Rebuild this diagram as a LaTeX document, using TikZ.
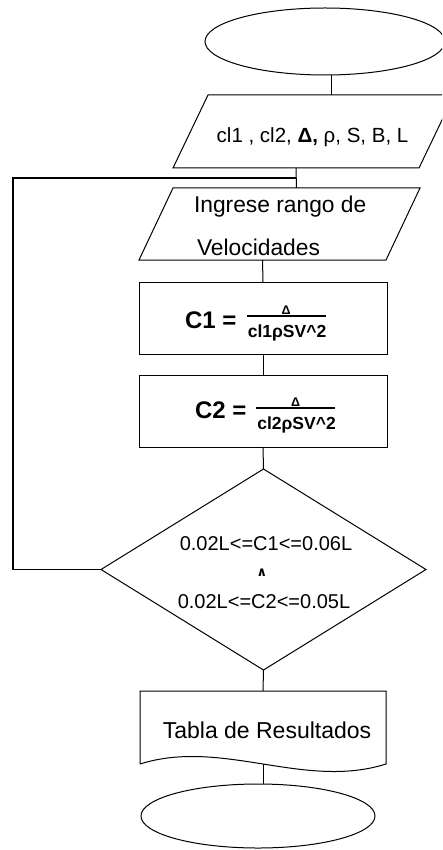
\documentclass[tikz,border=0pt]{standalone}
\usepackage{fontspec}
\setmainfont{Liberation Sans}
\newfontfamily\symfam{DejaVu Sans}
\usetikzlibrary{shapes.geometric,calc}
\begin{document}
\begin{tikzpicture}[x=1pt,y=-1pt,
  line width=1pt,
  every node/.style={inner sep=0pt,outer sep=0pt},
  term/.style={draw,ellipse},
  procbox/.style={draw,rectangle},
  txt/.style={text=black},
  numer/.style={txt,anchor=base,font=\fontsize{12.5}{12.5}\selectfont\bfseries},
  denom/.style={txt,anchor=base,font=\fontsize{17.5}{17.5}\selectfont\bfseries},
  lhs/.style={txt,anchor=base west,font=\fontsize{24}{24}\selectfont\bfseries},
  fracbar/.style={line width=1.2pt},
  loopline/.style={line width=1.6pt}
]
\useasboundingbox (0,0) rectangle (442,850);
\clip (0,0) rectangle (442,850);

% start terminal
\node[term,minimum width=240pt,minimum height=67pt] (start) at (325,41.5) {};

% input 1 (parallelogram)
\node[minimum width=246pt,minimum height=73pt] (in1) at (313.5,131.5) {};
\draw ($(in1.north west)+(17.5,0)$) -- ($(in1.north east)+(17.5,0)$)
   -- ($(in1.south east)+(-17.5,0)$) -- ($(in1.south west)+(-17.5,0)$) -- cycle;
\coordinate (in1t) at ($(in1.north)+(17.5,0)$);
\coordinate (in1b) at ($(in1.south)+(-17.5,0)$);
\node[txt,anchor=base,font=\fontsize{20.5}{20.5}\selectfont] (t1) at (312.5,143)
  {cl1 , cl2, \textbf{Δ,} ρ, S, B, L};

% input 2 (parallelogram)
\node[minimum width=247pt,minimum height=72pt] (in2) at (279.5,224) {};
\draw ($(in2.north west)+(17,0)$) -- ($(in2.north east)+(17,0)$)
   -- ($(in2.south east)+(-17,0)$) -- ($(in2.south west)+(-17,0)$) -- cycle;
\coordinate (in2t) at ($(in2.north)+(17,0)$);
\coordinate (in2b) at ($(in2.south)+(-17,0)$);
\node[txt,anchor=base west,font=\fontsize{22.8}{22.8}\selectfont] (t2a) at (194,213) {Ingrese rango de};
\node[txt,anchor=base west,font=\fontsize{22.8}{22.8}\selectfont] (t2b) at (197,255) {Velocidades};

% process C1
\node[procbox,minimum width=248pt,minimum height=72pt] (c1) at (263,318) {};
\node[lhs] (f1) at (185,328) {C1 =};
\coordinate (b1l) at (247,316);
\coordinate (b1r) at (326,316);
\draw[fracbar] (b1l) -- (b1r);
\node[numer] (n1) at (286,314) {Δ};
\node[denom] (dn1) at (287,337) {cl1ρSV\textasciicircum2};

% process C2
\node[procbox,minimum width=248pt,minimum height=72pt] (c2) at (263,411) {};
\node[lhs] (f2) at (195,418) {C2 =};
\coordinate (b2l) at (256,408);
\coordinate (b2r) at (335,408);
\draw[fracbar] (b2l) -- (b2r);
\node[numer] (n2) at (295.5,406) {Δ};
\node[denom] (dn2) at (296.5,429) {cl2ρSV\textasciicircum2};

% decision
\node[minimum width=325pt,minimum height=201pt] (dec) at (263.5,569.5) {};
\draw (dec.north) -- (dec.east) -- (dec.south) -- (dec.west) -- cycle;
\node[txt,anchor=base,font=\fontsize{20}{20}\selectfont] (d1) at (266,550) {0.02L<=C1<=0.06L};
\node[txt,anchor=base,font=\fontsize{13}{13}\selectfont\symfam\bfseries] (d2) at (262,576) {∧};
\node[txt,anchor=base,font=\fontsize{20}{20}\selectfont] (d3) at (264,608) {0.02L<=C2<=0.05L};

% document
\node[minimum width=246pt,minimum height=73pt] (doc) at (263,727.5) {};
\draw (doc.south west) -- (doc.north west) -- (doc.north east) -- (doc.south east)
  .. controls ($(doc.south)+(41,26)$) and ($(doc.south)+(-41,-26)$) .. (doc.south west);
\node[txt,anchor=base,font=\fontsize{23}{23}\selectfont] (t3) at (267,738) {Tabla de Resultados};

% end terminal
\node[term,minimum width=234pt,minimum height=64pt] (stop) at (258,816) {};

% connectors
\draw (start.south -| in1t) -- (in1t);
\draw (in1b) -- (in2t);
\draw (in2b) -- (c1.north);
\draw (c1.south) -- (c2.north);
\draw (c2.south) -- (dec.north);
\draw (dec.south) -- (doc.north);
\draw (doc.south) -- (doc.south |- stop.north);
\coordinate (loopend) at ($(in1b)!0.5!(in2t)$);
\coordinate (lx) at (13,178);
\draw[loopline] (dec.west) -| (lx) -- (loopend);
\end{tikzpicture}
\end{document}
